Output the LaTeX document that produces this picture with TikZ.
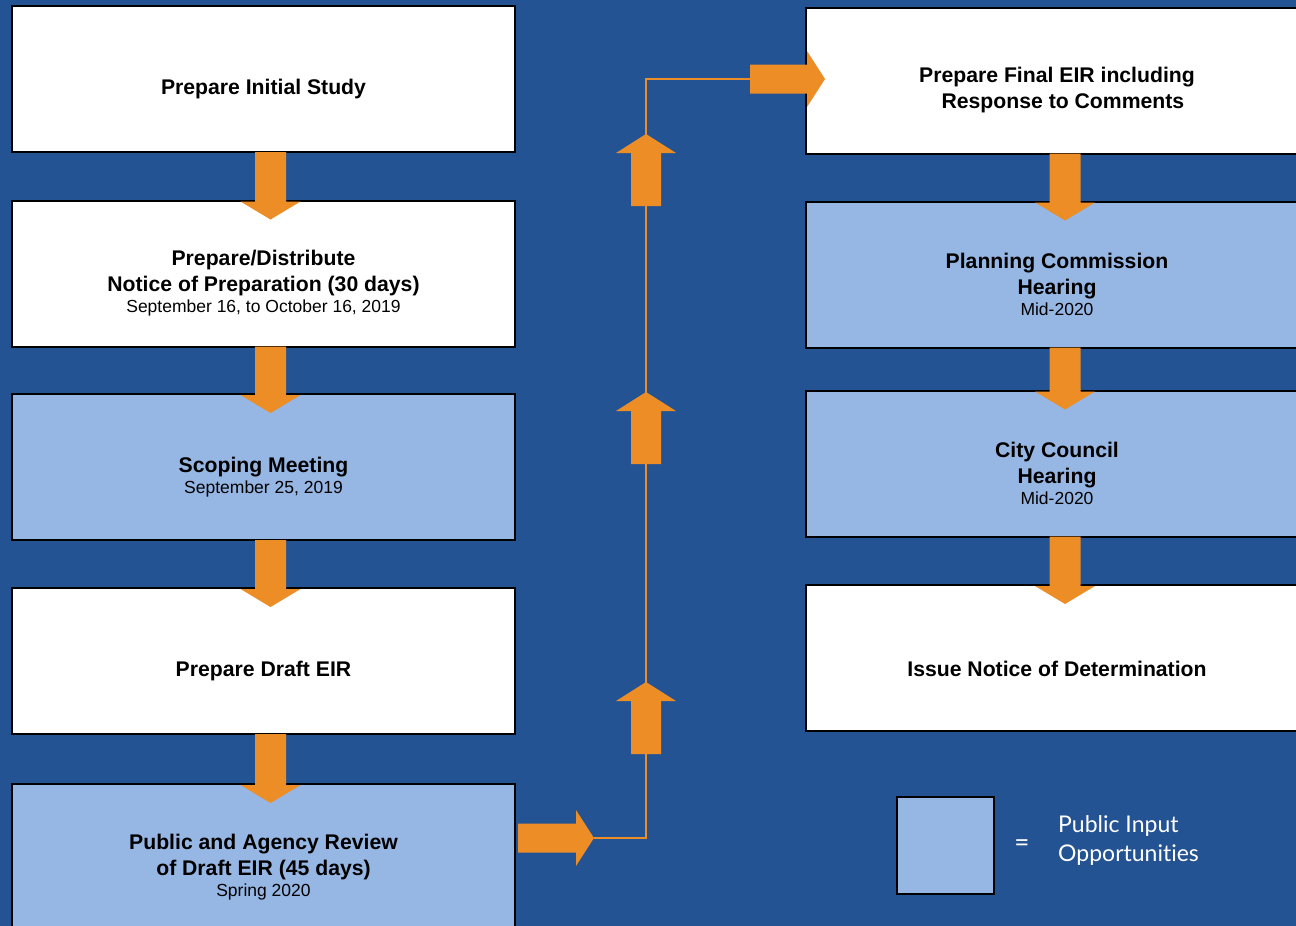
\documentclass[tikz,border=0pt]{standalone}
\usepackage{fontspec}
\setmainfont{Liberation Sans}
\newfontfamily\lgfont[Ligatures=NoCommon]{Lato}
\usetikzlibrary{calc}
\definecolor{bgmain}{HTML}{245394}
\definecolor{bgdark}{HTML}{1C3D70}
\definecolor{pubfill}{HTML}{96B6E4}
\definecolor{orng}{HTML}{EC8D25}
\pgfdeclareradialshading{bgshade}{\pgfpoint{0bp}{0bp}}{color(0bp)=(bgmain); color(42bp)=(bgmain); color(72bp)=(bgdark)}
\newcommand\smtxt{\normalfont\fontsize{17.5}{21}\selectfont}
\newcommand\dnarr[3]{%
  \fill[arr] ($(#1.south)+(#3-15.5,-1)$) -- ($(#2.north)+(#3-15.5,2)$) -- ($(#2.north)+(#3-30,2)$) -- ($(#2.north)+(#3,20)$) -- ($(#2.north)+(#3+30,2)$) -- ($(#2.north)+(#3+15.5,2)$) -- ($(#1.south)+(#3+15.5,-1)$) -- cycle;}
\newcommand\uparr[1]{%
  \fill[arr] (#1) -- ++(30,19) -- ++(-15,0) -- ++(0,53) -- ++(-30,0) -- ++(0,-53) -- ++(-15,0) -- cycle;}
\newcommand\rtarr[2]{%
  \fill[arr] (#1) -- ++(-18,-28) -- ++(0,13.5) -- ++(-#2,0) -- ++(0,29) -- ++(#2,0) -- ++(0,13.5) -- cycle;}
\begin{document}
\begin{tikzpicture}[x=1pt,y=-1pt,
  box/.style={draw=black, line width=2pt, fill=white, minimum width=503pt, minimum height=146pt, inner sep=0pt},
  pub/.style={box, fill=pubfill},
  bt/.style={align=center, font=\bfseries\fontsize{21.2}{26}\selectfont, text=black, inner sep=0pt},
  arr/.style={fill=orng},
  conn/.style={draw=orng, line width=1.6pt}]
\shade[shading=bgshade] (0,0) rectangle (1296,926);
\useasboundingbox (0,0) rectangle (1296,926);
\clip (0,0) rectangle (1296,926);
% left column
\node[box] (b1) at (263.5,79) {};
\node[box] (b2) at (263.5,273.5) {};
\node[pub] (b3) at (263.5,467) {};
\node[box] (b4) at (263.5,661) {};
\node[pub] (b5) at (263.5,857) {};
% right column
\node[box] (r1) at (1057,80.5) {};
\node[pub] (r2) at (1057,274.5) {};
\node[pub] (r3) at (1057,463.5) {};
\node[box] (r4) at (1057,658) {};
% texts
\node[bt] (t1) at ([yshift=-10.5pt]b1.center) {Prepare Initial Study};
\node[bt] (t2) at ([yshift=-10pt]b2.center) {Prepare/Distribute\\Notice of Preparation (30 days)\\[-5pt]{\smtxt September 16, to October 16, 2019}};
\node[bt] (t3) at ([yshift=-10pt]b3.center) {Scoping Meeting\\[-5pt]{\smtxt September 25, 2019}};
\node[bt] (t4) at ([yshift=-10.5pt]b4.center) {Prepare Draft EIR};
\node[bt] (t5) at ([yshift=-10pt]b5.center) {Public and Agency Review\\of Draft EIR (45 days)\\[-5pt]{\smtxt Spring 2020}};
\node[bt] (s1) at ([yshift=-10pt]r1.center) {Prepare Final EIR including\\ \hphantom{x}Response to Comments};
\node[bt] (s2) at ([yshift=-10pt]r2.center) {Planning Commission\\Hearing\\[-5pt]{\smtxt Mid-2020}};
\node[bt] (s3) at ([yshift=-10pt]r3.center) {City Council\\Hearing\\[-5pt]{\smtxt Mid-2020}};
\node[bt] (s4) at ([yshift=-10.5pt]r4.center) {Issue Notice of Determination};
% down arrows
\dnarr{b1}{b2}{7}
\dnarr{b2}{b3}{7}
\dnarr{b3}{b4}{7}
\dnarr{b4}{b5}{7}
\dnarr{r1}{r2}{8}
\dnarr{r2}{r3}{8}
\dnarr{r3}{r4}{8}
% connector from review to final EIR
\coordinate (p1) at (594,838);
\coordinate (j) at (646,79);
\coordinate (p2) at (750,79);
\coordinate (p3) at (825,79);
\coordinate (u1) at (646,134);
\coordinate (u2) at (646,392);
\coordinate (u3) at (646,682);
\draw[conn] (p1) -| (j) -- (p2);
\rtarr{p1}{58}
\rtarr{p3}{57}
\uparr{u1}
\uparr{u2}
\uparr{u3}
% legend
\node[draw=black, line width=2.4pt, fill=pubfill, minimum width=97pt, minimum height=97pt, inner sep=0pt] (lg) at (945.5,845.5) {};
\node[text=white, inner sep=0pt, font=\lgfont\fontsize{26}{28}\selectfont] (eq) at (1022,846) {=};
\node[text=white, inner sep=0pt, align=left, anchor=west, font=\lgfont\fontsize{23}{29}\selectfont] (lgt) at (1058,840) {Public Input\\Opportunities};
\end{tikzpicture}
\end{document}
